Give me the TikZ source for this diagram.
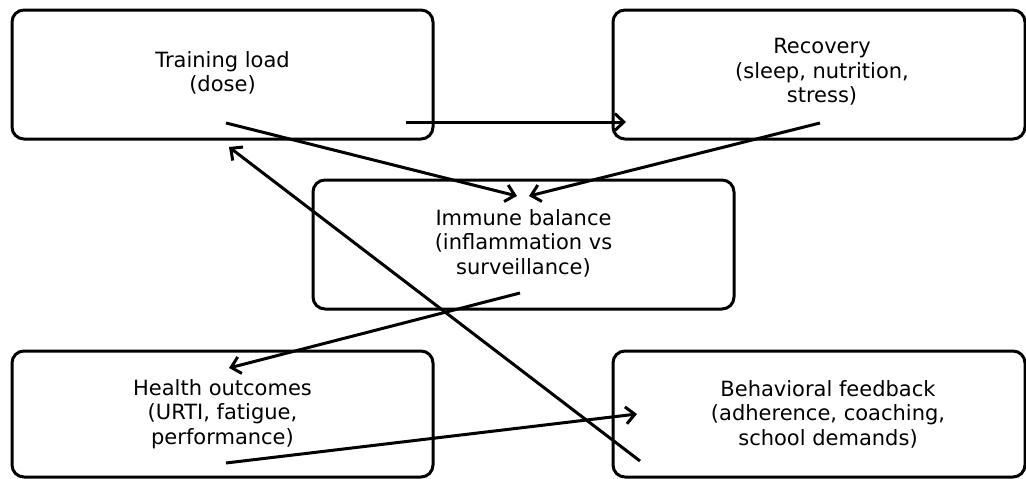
\documentclass[tikz,border=0pt]{standalone}
\usepackage{fontspec}
\setmainfont{DejaVu Sans}
\usetikzlibrary{arrows.meta}
\begin{document}
\begin{tikzpicture}[x=1pt,y=-1pt,
  boxst/.style={draw=black,line width=3pt,rounded corners=12pt},
  lbl/.style={align=center,font=\fontsize{21}{24.5}\selectfont,inner sep=0pt},
  arr/.style={line width=3pt,-{Straight Barb[length=9pt,width=17pt,line width=3pt]}}]
\useasboundingbox (0,0) rectangle (1026,479);
\draw[boxst] (12,10) rectangle (433,139);
\draw[boxst] (613,10) rectangle (1025,139);
\draw[boxst] (313,180) rectangle (734,309);
\draw[boxst] (12,351) rectangle (433,477);
\draw[boxst] (613,351) rectangle (1025,477);
\node[lbl] (tl) at (222.5,73) {Training load\\(dose)};
\node[lbl] (rc) at (822,72) {Recovery\\(sleep, nutrition,\\stress)};
\node[lbl] (ib) at (523.5,243) {Immune balance\\(inflammation vs\\surveillance)};
\node[lbl] (ho) at (222.5,414) {Health outcomes\\(URTI, fatigue,\\performance)};
\node[lbl] (bf) at (828,414) {Behavioral feedback\\(adherence, coaching,\\school demands)};
\coordinate (a1s) at (406,122); \coordinate (a1e) at (626,122);
\coordinate (a2s) at (226,123); \coordinate (a2e) at (517,196);
\coordinate (a3s) at (820,123); \coordinate (a3e) at (529,196);
\coordinate (a4s) at (520,293); \coordinate (a4e) at (229,368);
\coordinate (a5s) at (226,463); \coordinate (a5e) at (637,414);
\coordinate (a6s) at (640,461); \coordinate (a6e) at (229,147);
\draw[arr] (a1s) -- (a1e);
\draw[arr] (a2s) -- (a2e);
\draw[arr] (a3s) -- (a3e);
\draw[arr] (a4s) -- (a4e);
\draw[arr] (a5s) -- (a5e);
\draw[arr] (a6s) -- (a6e);
\end{tikzpicture}
\end{document}
